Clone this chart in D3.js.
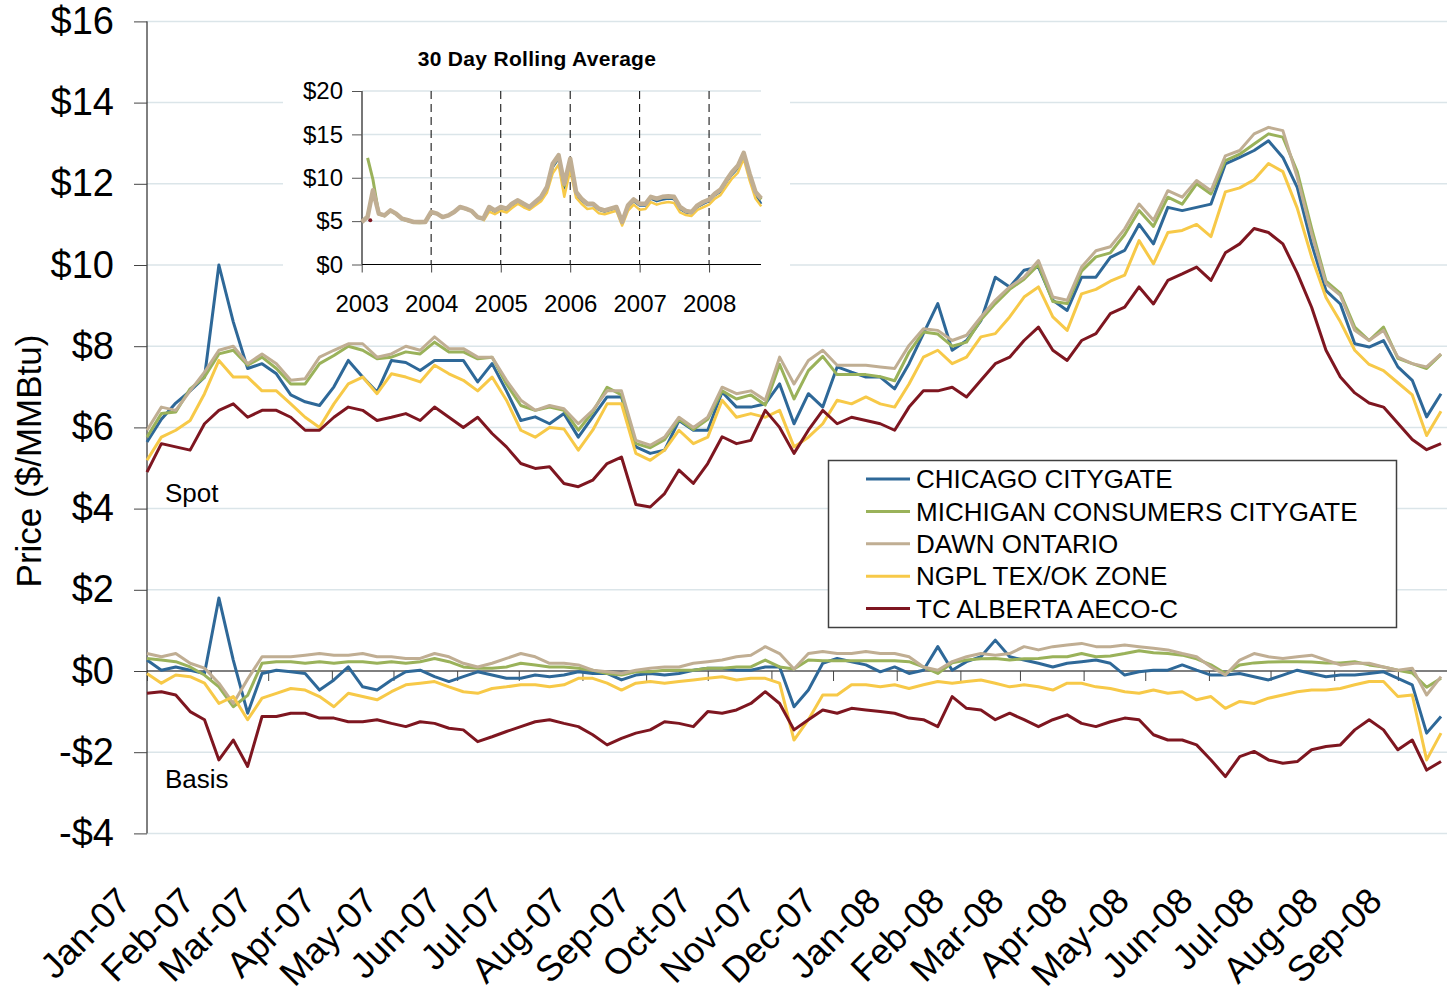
<!DOCTYPE html>
<html><head><meta charset="utf-8">
<script src="https://cdnjs.cloudflare.com/ajax/libs/d3/7.8.5/d3.min.js"></script>
<style>body{margin:0;background:#fff;}svg{display:block;font-family:"Liberation Sans",Arial,sans-serif;}</style>
</head><body>
<svg id="chart" width="1447" height="995"></svg>
<script>
// ---------- DATA ----------
const seriesNames = ["CHICAGO CITYGATE","MICHIGAN CONSUMERS CITYGATE","DAWN ONTARIO","NGPL TEX/OK ZONE","TC ALBERTA AECO-C"];
const seriesColors = ["#2E6898","#9AB25A","#C0AE93","#F7C948","#7E1620"];
// weekly observations starting 2007-01-01
const weekStart = [2007, 0, 1];
const spotChicago = [5.64,6.2,6.6,6.9,7.24,10.0,8.6,7.45,7.57,7.32,6.8,6.63,6.54,7.0,7.65,7.24,6.87,7.65,7.6,7.4,7.65,7.65,7.65,7.12,7.57,6.9,6.17,6.26,6.09,6.34,5.76,6.26,6.75,6.75,5.52,5.36,5.44,6.17,5.93,5.93,6.87,6.5,6.5,6.58,7.07,6.09,6.83,6.5,7.49,7.36,7.24,7.24,6.95,7.57,8.31,9.05,7.9,8.14,8.63,9.7,9.46,9.87,9.95,9.13,8.88,9.7,9.7,10.19,10.36,11.0,10.52,11.42,11.34,11.42,11.5,12.49,12.65,12.82,13.06,12.65,11.91,10.52,9.37,9.04,8.06,7.98,8.14,7.49,7.16,6.26,6.83];
const spotMichigan = [5.76,6.34,6.38,6.95,7.24,7.81,7.9,7.53,7.73,7.45,7.07,7.07,7.57,7.77,8.0,7.9,7.69,7.73,7.86,7.81,8.1,7.86,7.86,7.69,7.73,7.07,6.54,6.42,6.5,6.42,5.93,6.38,6.99,6.8,5.6,5.5,5.7,6.2,5.95,6.2,6.9,6.7,6.8,6.55,7.55,6.7,7.4,7.75,7.3,7.3,7.3,7.25,7.15,7.85,8.35,8.3,8.0,8.1,8.65,9.05,9.4,9.65,10.0,9.1,9.05,9.85,10.2,10.3,10.75,11.34,10.95,11.67,11.5,12.0,11.75,12.57,12.73,12.98,13.23,13.15,12.3,10.9,9.6,9.3,8.47,8.14,8.47,7.7,7.57,7.45,7.8];
const spotDawn = [5.93,6.5,6.42,6.9,7.36,7.9,8.0,7.57,7.81,7.57,7.16,7.2,7.73,7.9,8.06,8.06,7.73,7.81,8.0,7.9,8.23,7.94,7.94,7.73,7.73,7.16,6.67,6.42,6.54,6.46,6.09,6.42,6.9,6.9,5.68,5.56,5.76,6.25,6.0,6.25,6.99,6.83,6.9,6.67,7.73,7.07,7.65,7.9,7.53,7.53,7.53,7.49,7.45,8.02,8.43,8.39,8.14,8.27,8.72,9.13,9.46,9.7,10.11,9.21,9.13,9.95,10.35,10.45,10.89,11.5,11.1,11.83,11.67,12.08,11.83,12.69,12.82,13.23,13.39,13.31,12.16,10.77,9.54,9.25,8.39,8.14,8.39,7.73,7.57,7.49,7.81];
const spotNgpl = [5.19,5.76,5.93,6.17,6.83,7.65,7.24,7.24,6.9,6.9,6.58,6.25,6.0,6.58,7.07,7.24,6.83,7.32,7.24,7.12,7.53,7.32,7.16,6.9,7.24,6.67,5.93,5.76,6.0,5.96,5.44,5.93,6.58,6.58,5.36,5.19,5.44,5.93,5.6,5.76,6.67,6.25,6.34,6.25,6.42,5.52,5.76,6.09,6.67,6.58,6.75,6.58,6.5,7.07,7.73,7.9,7.57,7.73,8.23,8.31,8.72,9.21,9.46,8.72,8.39,9.29,9.4,9.6,9.75,10.6,10.03,10.8,10.85,11.0,10.7,11.8,11.9,12.1,12.5,12.3,11.4,10.2,9.2,8.6,7.9,7.55,7.4,7.1,6.8,5.8,6.4];
const spotAeco = [4.9,5.6,5.52,5.44,6.09,6.42,6.58,6.25,6.42,6.42,6.25,5.93,5.93,6.25,6.5,6.42,6.17,6.25,6.34,6.17,6.5,6.25,6.0,6.25,5.85,5.52,5.11,4.99,5.03,4.62,4.54,4.7,5.11,5.27,4.1,4.04,4.37,4.95,4.62,5.11,5.77,5.6,5.68,6.42,6.0,5.36,5.93,6.42,6.09,6.25,6.17,6.09,5.93,6.5,6.9,6.9,6.99,6.75,7.16,7.57,7.73,8.14,8.47,7.9,7.65,8.14,8.31,8.8,8.96,9.46,9.04,9.62,9.78,9.95,9.62,10.3,10.52,10.9,10.8,10.52,9.8,8.96,7.9,7.24,6.85,6.6,6.5,6.1,5.7,5.45,5.6];
const basisChicago = [0.27,0.02,0.1,0.02,-0.06,1.8,0.27,-1.04,-0.06,0.02,-0.02,-0.06,-0.47,-0.22,0.1,-0.39,-0.47,-0.22,-0.02,0.02,-0.14,-0.26,-0.14,-0.02,-0.1,-0.18,-0.18,-0.1,-0.14,-0.1,-0.02,-0.06,-0.06,-0.22,-0.1,-0.06,-0.1,-0.06,0.02,0.07,0.07,0.02,0.02,0.1,0.1,-0.88,-0.47,0.19,0.31,0.23,0.15,-0.02,0.1,-0.06,0.02,0.6,0.02,0.23,0.35,0.76,0.35,0.27,0.19,0.1,0.19,0.23,0.27,0.19,-0.1,-0.02,0.02,0.02,0.15,0.02,-0.1,-0.1,-0.06,-0.14,-0.22,-0.1,0.02,-0.06,-0.14,-0.1,-0.1,-0.06,-0.02,-0.18,-0.34,-1.53,-1.12];
const basisMichigan = [0.31,0.27,0.23,0.1,-0.1,-0.39,-0.88,-0.6,0.19,0.23,0.23,0.19,0.23,0.19,0.23,0.23,0.19,0.23,0.19,0.23,0.31,0.23,0.1,0.07,0.07,0.1,0.19,0.15,0.1,0.1,0.07,0.02,-0.06,-0.1,-0.02,-0.02,0.02,0.02,0.02,0.07,0.07,0.1,0.1,0.27,0.1,0.05,0.27,0.25,0.25,0.25,0.25,0.25,0.25,0.23,0.1,-0.06,0.2,0.27,0.3,0.31,0.27,0.3,0.31,0.35,0.35,0.43,0.35,0.37,0.43,0.5,0.45,0.43,0.39,0.3,0.15,-0.06,0.15,0.2,0.22,0.23,0.23,0.22,0.2,0.2,0.23,0.15,0.1,0.02,-0.05,-0.4,-0.18];
const basisDawn = [0.43,0.35,0.43,0.19,0.07,-0.3,-0.8,-0.2,0.35,0.35,0.35,0.39,0.43,0.39,0.39,0.43,0.35,0.35,0.31,0.31,0.43,0.35,0.19,0.1,0.19,0.31,0.43,0.35,0.19,0.19,0.15,0.02,-0.02,-0.06,0.02,0.07,0.1,0.1,0.19,0.23,0.27,0.35,0.39,0.6,0.43,0.05,0.43,0.48,0.43,0.43,0.48,0.43,0.43,0.35,0.1,0.02,0.23,0.35,0.43,0.39,0.43,0.6,0.52,0.6,0.64,0.68,0.6,0.6,0.64,0.6,0.56,0.52,0.43,0.35,0.1,-0.1,0.27,0.43,0.35,0.31,0.35,0.39,0.27,0.15,0.19,0.19,0.1,0.02,0.07,-0.59,-0.14];
const basisNgpl = [-0.06,-0.3,-0.1,-0.14,-0.3,-0.8,-0.63,-1.2,-0.67,-0.55,-0.43,-0.47,-0.63,-0.88,-0.55,-0.63,-0.71,-0.51,-0.34,-0.3,-0.26,-0.39,-0.51,-0.55,-0.43,-0.39,-0.34,-0.34,-0.39,-0.34,-0.18,-0.18,-0.3,-0.47,-0.3,-0.26,-0.3,-0.26,-0.22,-0.18,-0.14,-0.22,-0.18,-0.18,-0.3,-1.7,-1.2,-0.59,-0.59,-0.34,-0.34,-0.39,-0.34,-0.43,-0.34,-0.26,-0.3,-0.26,-0.22,-0.3,-0.39,-0.34,-0.39,-0.47,-0.3,-0.3,-0.39,-0.43,-0.51,-0.55,-0.47,-0.55,-0.51,-0.71,-0.63,-0.92,-0.75,-0.8,-0.67,-0.59,-0.51,-0.47,-0.47,-0.43,-0.34,-0.26,-0.26,-0.63,-0.59,-2.19,-1.53];
const basisAeco = [-0.55,-0.51,-0.59,-1.0,-1.2,-2.19,-1.7,-2.35,-1.12,-1.12,-1.04,-1.04,-1.16,-1.16,-1.25,-1.25,-1.2,-1.29,-1.37,-1.25,-1.29,-1.41,-1.45,-1.74,-1.62,-1.49,-1.37,-1.25,-1.2,-1.29,-1.37,-1.57,-1.82,-1.66,-1.53,-1.45,-1.25,-1.29,-1.37,-1.0,-1.04,-0.96,-0.8,-0.51,-0.8,-1.45,-1.2,-0.96,-1.04,-0.92,-0.96,-1.0,-1.04,-1.16,-1.2,-1.37,-0.63,-0.92,-0.96,-1.2,-1.04,-1.2,-1.37,-1.2,-1.08,-1.29,-1.37,-1.25,-1.16,-1.2,-1.57,-1.7,-1.7,-1.82,-2.19,-2.6,-2.11,-1.98,-2.19,-2.27,-2.23,-1.94,-1.86,-1.82,-1.45,-1.2,-1.45,-1.94,-1.7,-2.44,-2.23];
const priceTicks = [16,14,12,10,8,6,4,2,0,-2,-4];
const monthLabels = ["Jan-07","Feb-07","Mar-07","Apr-07","May-07","Jun-07","Jul-07","Aug-07","Sep-07","Oct-07","Nov-07","Dec-07","Jan-08","Feb-08","Mar-08","Apr-08","May-08","Jun-08","Jul-08","Aug-08","Sep-08"];
const yAxisTitle = "Price ($/MMBtu)";
// inset: monthly 30-day rolling averages (first of month, from Jan 2003)
const insetTitle = "30 Day Rolling Average";
const insetYears = [2003,2004,2005,2006,2007,2008];
const insetTicks = [0,5,10,15,20];
const insetDawn = [4.9,5.5,8.55,5.86,5.66,6.24,5.86,5.28,5.1,4.9,4.9,4.9,6.05,5.86,5.47,5.66,6.05,6.63,6.44,6.17,5.47,5.28,6.63,6.24,6.63,6.44,7.0,7.4,7.0,6.63,7.2,7.8,8.94,11.6,12.6,9.3,12.2,8.36,7.6,7.0,7.0,6.44,6.24,6.44,6.63,4.9,6.82,7.5,7.0,7.0,7.8,7.6,7.8,7.86,7.8,6.63,6.17,6.05,6.82,7.2,7.48,8.17,8.63,9.7,10.67,11.4,12.87,10.48,8.36,7.6];
const insetMichigan = [null,12.3,9.8,5.8,5.6,6.2,5.8,5.25,5.05,4.85,4.8,4.85,6.0,5.85,5.45,5.65,6.05,6.6,6.4,6.15,5.45,5.25,6.55,6.2,6.55,6.4,6.95,7.35,6.95,6.6,7.15,7.7,8.8,11.4,12.4,9.1,12.0,8.3,7.55,6.95,6.95,6.4,6.2,6.4,6.6,4.85,6.75,7.45,6.95,6.95,7.75,7.55,7.75,7.8,7.75,6.6,6.15,6.0,6.75,7.15,7.45,8.1,8.55,9.6,10.55,11.3,12.75,10.4,8.3,7.5];
const insetLateStart = 21; // Chicago & NGPL series begin Oct 2004
const insetChicago = [5.2,6.5,6.1,6.5,6.3,6.85,7.25,6.85,6.5,7.05,7.6,8.7,11.2,12.2,8.8,11.8,8.1,7.4,6.85,6.85,6.3,6.1,6.3,6.5,4.7,6.6,7.3,6.8,6.8,7.6,7.3,7.5,7.6,7.55,6.4,6.0,5.9,6.65,7.0,7.3,8.0,8.4,9.5,10.4,11.1,12.6,10.2,8.1,7.0];
const insetNgpl = [5.0,6.1,5.8,6.2,6.0,6.5,7.0,6.6,6.3,6.8,7.3,8.3,10.5,11.5,7.8,10.9,7.7,7.0,6.4,6.5,5.9,5.8,6.0,6.2,4.5,6.2,6.9,6.3,6.4,7.2,6.9,7.1,7.2,7.1,6.0,5.7,5.6,6.3,6.6,6.9,7.6,8.0,9.0,9.9,10.6,12.2,9.7,7.6,6.7];
const insetAecoPoint = {date:[2003,1,15], v:5.1};

// ---------- DRAW ----------
const svg = d3.select("#chart");
const W = 1447;
const x = d3.scaleTime().domain([new Date(2007,0,1), new Date(2008,9,1)]).range([147, 1459.5]);
const y = d3.scaleLinear().domain([-4,16]).range([833.4, 21.4]);
const start = new Date(weekStart[0], weekStart[1], weekStart[2]);
const toPts = arr => arr.map((v,i)=>({date:d3.timeDay.offset(start, 7*i), v}));

// gridlines
svg.append("g").selectAll("line").data(priceTicks.filter(t=>t!==0)).join("line")
  .attr("x1",147).attr("x2",W).attr("y1",d=>y(d)).attr("y2",d=>y(d))
  .attr("stroke","#dbe5e9").attr("stroke-width",1.5);

// left axis
const yAxis = d3.axisLeft(y).tickValues(priceTicks).tickSize(13).tickPadding(20)
  .tickFormat(d=> d<0 ? "-$"+Math.abs(d) : "$"+d);
const gy = svg.append("g").attr("transform","translate(147,0)").call(yAxis);
gy.select(".domain").attr("stroke","#000").attr("d","M0,21.4V833.4");
gy.selectAll(".tick line").attr("stroke","#444");
gy.selectAll("text").attr("font-size",38).attr("fill","#000").attr("font-family","Liberation Sans, Arial, sans-serif");

// zero (category) axis
const months = d3.timeMonth.range(new Date(2007,0,1), new Date(2008,9,1));
const xAxis = d3.axisBottom(x).tickValues(months).tickSize(10).tickFormat("");
const gx = svg.append("g").attr("transform",`translate(0,${y(0)})`).call(xAxis);
gx.select(".domain").attr("stroke","#000").attr("d",`M147,0H${W}`);
gx.selectAll(".tick line").attr("stroke","#444");

// month labels (bottom, rotated)
svg.append("g").selectAll("text").data(monthLabels).join("text")
  .attr("transform",(d,i)=>`translate(${x(new Date(2007,i,1))-14},903) rotate(-45)`)
  .attr("text-anchor","end").attr("font-size",36).attr("fill","#000").text(d=>d);

// axis title
svg.append("text").attr("transform","translate(41,461) rotate(-90)")
  .attr("text-anchor","middle").attr("font-size",35).text(yAxisTitle);

// lines
const line = d3.line().x(d=>x(d.date)).y(d=>y(d.v));
const spot = [spotChicago, spotMichigan, spotDawn, spotNgpl, spotAeco];
const basis = [basisChicago, basisMichigan, basisDawn, basisNgpl, basisAeco];
const gl = svg.append("g").attr("fill","none").attr("stroke-width",3).attr("stroke-linejoin","round");
[...basis.map((b,i)=>({d:b,i})), ...spot.map((s,i)=>({d:s,i}))].forEach(o=>{
  gl.append("path").attr("d", line(toPts(o.d))).attr("stroke", seriesColors[o.i]);
});

svg.append("text").attr("x",165).attr("y",502).attr("font-size",26).text("Spot");
svg.append("text").attr("x",165).attr("y",788).attr("font-size",26).text("Basis");

// legend
const lg = svg.append("g");
lg.append("rect").attr("x",828.5).attr("y",460.5).attr("width",568).attr("height",167)
  .attr("fill","#fff").attr("stroke","#404040").attr("stroke-width",1.5);
seriesNames.forEach((n,i)=>{
  const yy = 479 + 32.4*i;
  lg.append("line").attr("x1",866).attr("x2",910).attr("y1",yy).attr("y2",yy)
    .attr("stroke",seriesColors[i]).attr("stroke-width",3);
  lg.append("text").attr("x",916).attr("y",yy).attr("dy","0.35em").attr("font-size",26).text(n);
});

// ---------- INSET ----------
const ig = svg.append("g");
ig.append("rect").attr("x",283).attr("y",28).attr("width",507).attr("height",297).attr("fill","#fff");
const ix = d3.scaleTime().domain([new Date(2003,0,1), new Date(2008,8,30)]).range([361.7, 761]);
const iy = d3.scaleLinear().domain([0,20]).range([264.5, 91]);
ig.append("text").attr("x",537).attr("y",66).attr("text-anchor","middle")
  .attr("font-size",21).attr("font-weight","bold").attr("letter-spacing",0.3).text(insetTitle);
ig.append("g").selectAll("line").data(insetTicks.filter(t=>t>0)).join("line")
  .attr("x1",362).attr("x2",761).attr("y1",d=>iy(d)).attr("y2",d=>iy(d))
  .attr("stroke","#dbe5e9").attr("stroke-width",1.5);
ig.append("g").selectAll("line").data(insetYears.slice(1)).join("line")
  .attr("x1",d=>ix(new Date(d,0,1))).attr("x2",d=>ix(new Date(d,0,1)))
  .attr("y1",91).attr("y2",264).attr("stroke","#000").attr("stroke-dasharray","8,5");
const iyAxis = d3.axisLeft(iy).tickValues(insetTicks).tickSize(10).tickPadding(9).tickFormat(d=>"$"+d);
const giy = ig.append("g").attr("transform","translate(362,0)").call(iyAxis);
giy.select(".domain").attr("stroke","#777").attr("stroke-width",2).attr("d","M0,91V264.5");
giy.selectAll(".tick line").attr("stroke","#555");
giy.selectAll("text").attr("font-size",24).attr("fill","#000").attr("font-family","Liberation Sans, Arial, sans-serif");
const ixAxis = d3.axisBottom(ix).tickValues(insetYears.map(yr=>new Date(yr,0,1))).tickSize(8).tickPadding(22).tickFormat(d3.timeFormat("%Y"));
const gix = ig.append("g").attr("transform",`translate(0,${iy(0)})`).call(ixAxis);
gix.select(".domain").attr("stroke","#000").attr("d","M362,0H761");
gix.selectAll(".tick line").attr("stroke","#444");
gix.selectAll("text").attr("font-size",24).attr("fill","#000").attr("font-family","Liberation Sans, Arial, sans-serif");

const iline = d3.line().defined(d=>d.v!=null).x(d=>ix(d.date)).y(d=>iy(d.v));
const monthPts = (arr, off) => arr.map((v,i)=>({date:new Date(2003, i+off, 1), v}));
const insetSeries = [
  {d:monthPts(insetChicago, insetLateStart), c:seriesColors[0], w:2.5},
  {d:monthPts(insetNgpl, insetLateStart), c:seriesColors[3], w:2.5},
  {d:monthPts(insetMichigan, 0), c:seriesColors[1], w:3},
  {d:monthPts(insetDawn, 0), c:seriesColors[2], w:4.5}
];
insetSeries.forEach(s=>{
  ig.append("path").attr("d", iline(s.d)).attr("fill","none").attr("stroke",s.c)
    .attr("stroke-width",s.w).attr("stroke-linejoin","round");
});
ig.append("circle").attr("cx",ix(new Date(...insetAecoPoint.date))).attr("cy",iy(insetAecoPoint.v))
  .attr("r",2).attr("fill",seriesColors[4]);
</script>
</body></html>
